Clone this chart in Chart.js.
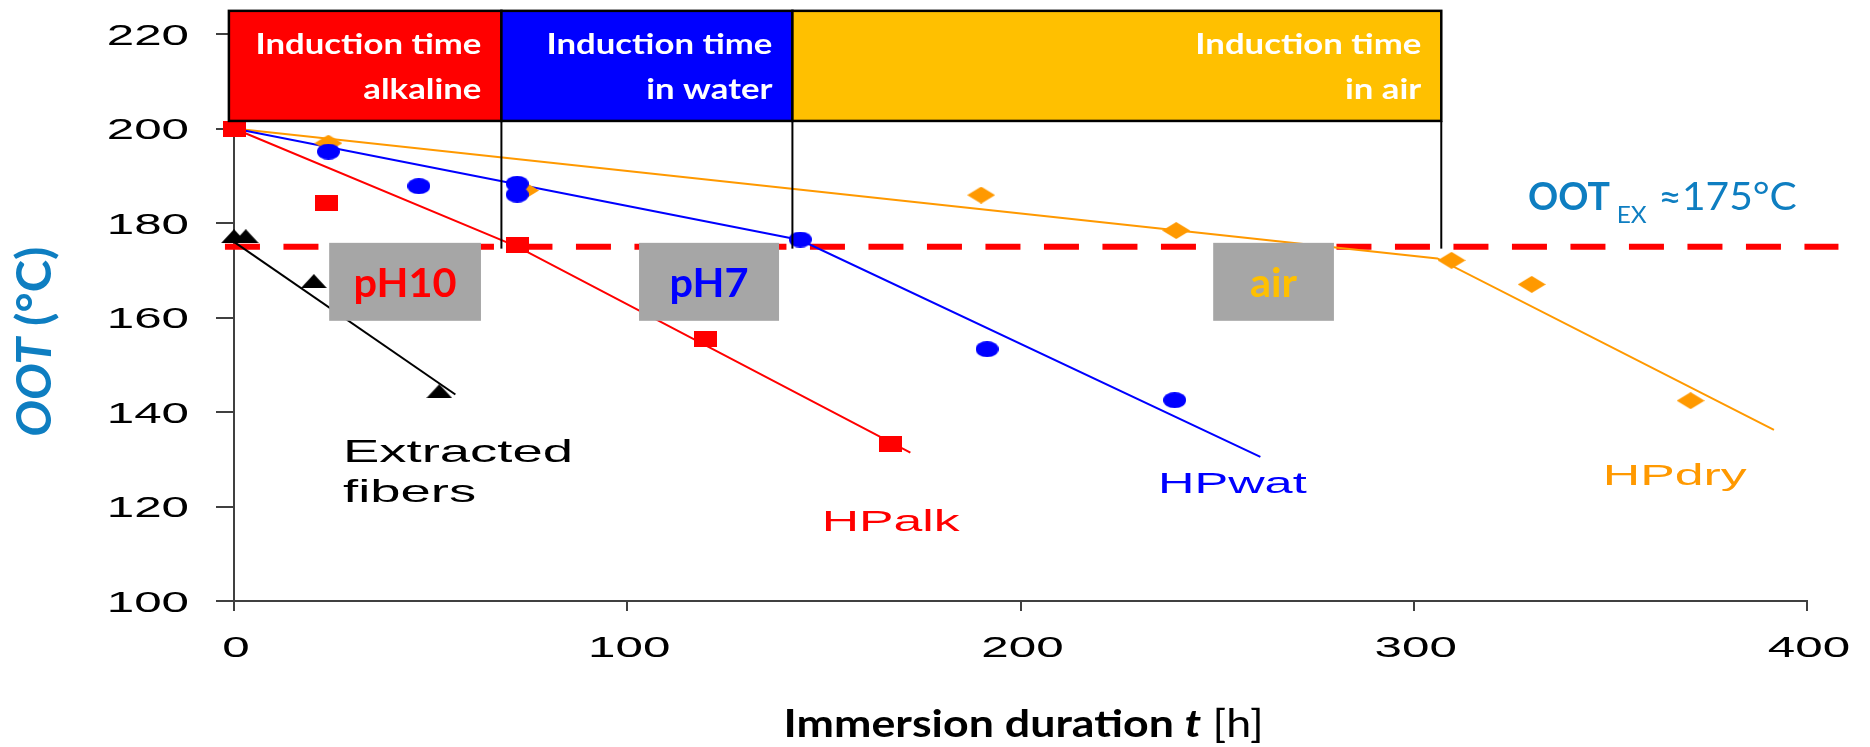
<!DOCTYPE html>
<html lang="en">
<head>
<meta charset="UTF-8">
<title>OOT vs immersion duration</title>
<script src="https://cdn.jsdelivr.net/npm/chart.js"></script>
<style>
  body { margin: 0; background: #fff; }
  .wrap { position: relative; width: 1870px; height: 747px; }
</style>
</head>
<body>
<div class="wrap"><canvas id="ootChart"></canvas></div>
<script>
// measured OOT (°C) against immersion time (h)
const hpalkT = [0, 23.5, 72, 120, 167];
const hpalkOOT = [200, 184.3, 175.3, 155.5, 133.2];
const hpwatT = [24, 47, 72, 72, 144, 191.5, 239.2];
const hpwatOOT = [195.1, 187.8, 188.3, 186.0, 176.5, 153.3, 142.5];
const hpdryT = [24, 74, 190, 239.6, 309.6, 330, 370.4];
const hpdryOOT = [196.9, 186.9, 185.9, 178.4, 172.1, 167, 142.4];
const fiberT = [0, 3, 20.3, 52.2];
const fiberOOT = [177.2, 177.2, 167.7, 144.4];

// trend lines: induction segment, then degradation segment
const hpalkFitT = [0, 72, 172];
const hpalkFitOOT = [200, 175, 131.4];
const hpwatFitT = [0, 144, 261];
const hpwatFitOOT = [200, 176.4, 130.5];
const hpdryFitT = [0, 306, 391.6];
const hpdryFitOOT = [200, 172.5, 136.2];
const fiberFitT = [0, 56.3];
const fiberFitOOT = [176, 143.7];

// OOT of the extracted fibers
const ootEx = 175;
const ootExSpan = [-2.3, 408];

// end of the induction time for each medium (h)
const inductionEnds = [68, 142, 307];
const inductionLabels = [['Induction time', 'alkaline'], ['Induction time', 'in water'], ['Induction time', 'in air']];
const mediumLabels = ['pH10', 'pH7', 'air'];
const mediumSpans = [[24.2, 62.8], [103, 138.6], [249, 279.7]];

const xTicks = [0, 100, 200, 300, 400];
const yTicks = [100, 120, 140, 160, 180, 200, 220];

const RED = '#FF0000', BLUE = '#0000FF', ORANGE = '#FF9900', GOLD = '#FFC000';
const GREY = '#A6A6A6', TEAL = '#0E7EC1', AXIS = '#404040';

const pts = (xs, ys) => xs.map((x, i) => ({ x: x, y: ys[i] }));

// the figure's markers are wider than tall, so build them as small bitmaps
function marker(w, h, color, shape) {
    const c = document.createElement('canvas');
    c.width = w; c.height = h;
    const g = c.getContext('2d');
    g.fillStyle = color;
    g.beginPath();
    if (shape === 'rect') g.rect(0, 0, w, h);
    if (shape === 'ellipse') g.ellipse(w / 2, h / 2, w / 2, h / 2, 0, 0, Math.PI * 2);
    if (shape === 'diamond') { g.moveTo(w / 2, 0); g.lineTo(w, h / 2); g.lineTo(w / 2, h); g.lineTo(0, h / 2); }
    if (shape === 'triangle') { g.moveTo(w / 2, 0); g.lineTo(w, h); g.lineTo(0, h); }
    g.closePath();
    g.fill();
    return c;
}

function stretchText(ctx, text, x, y, sx, align) {
    ctx.save();
    ctx.translate(x, y);
    ctx.scale(sx, 1);
    ctx.textAlign = align || 'left';
    ctx.textBaseline = 'alphabetic';
    ctx.fillText(text, 0, 0);
    ctx.restore();
}

function fitScale(ctx, text, width) {
    return width / ctx.measureText(text).width;
}

// draws runs of differently styled text squeezed/stretched to a total width
function drawRuns(ctx, runs, width) {
    let natural = 0;
    runs.forEach(r => { ctx.font = r.font; natural += ctx.measureText(r.text).width; });
    const sx = width / natural;
    ctx.save();
    ctx.scale(sx, 1);
    let x = 0;
    runs.forEach(r => {
        ctx.font = r.font;
        ctx.textAlign = 'left';
        ctx.fillText(r.text, x, 0);
        x += ctx.measureText(r.text).width;
    });
    ctx.restore();
}

const overlay = {
    id: 'overlay',
    afterDraw(chart) {
        const ctx = chart.ctx;
        const xs = chart.scales.x, ys = chart.scales.y;
        const px = v => xs.getPixelForValue(v);
        const py = v => ys.getPixelForValue(v);
        const area = chart.chartArea;
        ctx.save();

        // tick labels
        ctx.fillStyle = '#000';
        ctx.font = '29px "Liberation Sans", Arial, sans-serif';
        xs.ticks.forEach(t => stretchText(ctx, String(t.value), px(t.value) + 2, area.bottom + 56, 1.7, 'center'));
        ys.ticks.forEach(t => stretchText(ctx, String(t.value), 189, py(t.value) + 10.5, 1.7, 'right'));

        // grey medium boxes
        const gTop = py(175.8), gBot = py(159.3);
        const mediumColors = [RED, BLUE, GOLD];
        ctx.font = 'bold 40px Lato, sans-serif';
        const msx = fitScale(ctx, 'pH10', 103);
        mediumSpans.forEach((s, i) => {
            ctx.fillStyle = GREY;
            ctx.fillRect(px(s[0]), gTop, px(s[1]) - px(s[0]), gBot - gTop);
            ctx.fillStyle = mediumColors[i];
            stretchText(ctx, mediumLabels[i], (px(s[0]) + px(s[1])) / 2, gBot - 24, msx, 'center');
        });

        // induction time header boxes
        const hTop = py(224.9), hBot = py(201.6);
        const boxColors = [RED, BLUE, GOLD];
        const edges = [-1.3].concat(inductionEnds);
        ctx.font = 'bold 29px Lato, sans-serif';
        const hsx = fitScale(ctx, 'Induction time', 226);
        for (let i = 0; i < inductionEnds.length; i++) {
            const x0 = px(edges[i]), x1 = px(edges[i + 1]);
            ctx.fillStyle = boxColors[i];
            ctx.fillRect(x0, hTop, x1 - x0, hBot - hTop);
            ctx.strokeStyle = '#000';
            ctx.lineWidth = 2.5;
            ctx.strokeRect(x0, hTop, x1 - x0, hBot - hTop);
            ctx.fillStyle = '#fff';
            stretchText(ctx, inductionLabels[i][0], x1 - 20, hTop + 43, hsx, 'right');
            stretchText(ctx, inductionLabels[i][1], x1 - 20, hTop + 88, hsx, 'right');
            // drop line from the box down to the OOT_EX level
            ctx.lineWidth = 2;
            ctx.beginPath();
            ctx.moveTo(x1, hBot);
            ctx.lineTo(x1, py(ootEx) + 2);
            ctx.stroke();
        }

        // series labels
        ctx.font = '32px "Liberation Sans", Arial, sans-serif';
        ctx.fillStyle = '#000';
        const esx = fitScale(ctx, 'Extracted', 230);
        stretchText(ctx, 'Extracted', 343, 461.7, esx);
        stretchText(ctx, 'fibers', 343, 501.7, esx);
        ctx.font = '29px "Liberation Sans", Arial, sans-serif';
        [['HPalk', RED, 821.7, 530.7, 138], ['HPwat', BLUE, 1158, 493.3, 148.7], ['HPdry', ORANGE, 1602.7, 485, 144]]
            .forEach(l => {
                ctx.fillStyle = l[1];
                stretchText(ctx, l[0], l[2], l[3], fitScale(ctx, l[0], l[4]));
            });

        // OOT_EX note
        ctx.fillStyle = TEAL;
        ctx.font = 'bold 38px Lato, sans-serif';
        stretchText(ctx, 'OOT', 1528, 210, fitScale(ctx, 'OOT', 82));
        ctx.font = '23px Lato, sans-serif';
        stretchText(ctx, 'EX', 1616.7, 223.3, fitScale(ctx, 'EX', 30));
        ctx.font = '38px Lato, sans-serif';
        stretchText(ctx, '\u2248175\u00B0C', 1658.3, 210, fitScale(ctx, '\u2248175\u00B0C', 138.5));

        // axis titles
        ctx.fillStyle = '#000';
        ctx.save();
        ctx.translate(783.6, 737);
        drawRuns(ctx, [
            { text: 'Immersion duration ', font: 'bold 38px Lato, sans-serif' },
            { text: 't', font: 'italic bold 38px Lato, sans-serif' },
            { text: ' [h]', font: '38px Lato, sans-serif' }
        ], 480);
        ctx.restore();

        ctx.fillStyle = TEAL;
        ctx.save();
        ctx.translate(50.5, 436.7);
        ctx.rotate(-Math.PI / 2);
        drawRuns(ctx, [
            { text: 'OOT', font: 'italic bold 48px Lato, sans-serif' },
            { text: ' (\u00B0C)', font: 'bold 48px Lato, sans-serif' }
        ], 190);
        ctx.restore();

        ctx.restore();
    }
};

const sq = marker(23, 16, RED, 'rect');
const dot = marker(23, 16, BLUE, 'ellipse');
const dia = marker(28, 17, ORANGE, 'diamond');
const tri = marker(26, 14, '#000', 'triangle');

const fitLine = (xs, ys, color) => ({
    data: pts(xs, ys), showLine: true, borderColor: color, borderWidth: 2,
    pointRadius: 0, clip: false
});
const scatter = (xs, ys, img) => ({
    data: pts(xs, ys), showLine: false, pointStyle: img, pointRadius: 10, clip: false
});

new Chart(document.getElementById('ootChart'), {
    type: 'scatter',
    data: {
        datasets: [
            scatter(hpalkT, hpalkOOT, sq),
            scatter(hpwatT, hpwatOOT, dot),
            scatter(fiberT, fiberOOT, tri),
            scatter(hpdryT, hpdryOOT, dia),
            fitLine(hpalkFitT, hpalkFitOOT, RED),
            fitLine(hpwatFitT, hpwatFitOOT, BLUE),
            fitLine(hpdryFitT, hpdryFitOOT, ORANGE),
            fitLine(fiberFitT, fiberFitOOT, '#000'),
            {
                data: pts(ootExSpan, ootExSpan.map(() => ootEx)),
                showLine: true, borderColor: RED, borderWidth: 6, borderDash: [35, 23.5],
                pointRadius: 0, clip: false
            }
        ]
    },
    options: {
        responsive: true,
        maintainAspectRatio: false,
        animation: false,
        events: [],
        layout: { padding: { left: 0, top: 34, right: 63, bottom: 0 } },
        plugins: { legend: { display: false }, tooltip: { enabled: false } },
        scales: {
            x: {
                type: 'linear', min: 0, max: 400,
                afterBuildTicks: s => { s.ticks = xTicks.map(v => ({ value: v })); },
                afterFit: s => { s.height = 146; },
                ticks: { color: 'rgba(0,0,0,0)' },
                border: { color: AXIS, width: 2 },
                grid: { drawOnChartArea: false, color: AXIS, lineWidth: 2, tickLength: 10 }
            },
            y: {
                type: 'linear', min: 100, max: 220,
                afterBuildTicks: s => { s.ticks = yTicks.map(v => ({ value: v })); },
                afterFit: s => { s.width = 234; },
                ticks: { color: 'rgba(0,0,0,0)' },
                border: { color: AXIS, width: 2 },
                grid: { drawOnChartArea: false, color: AXIS, lineWidth: 2, tickLength: 18 }
            }
        }
    },
    plugins: [overlay]
});
</script>
</body>
</html>
